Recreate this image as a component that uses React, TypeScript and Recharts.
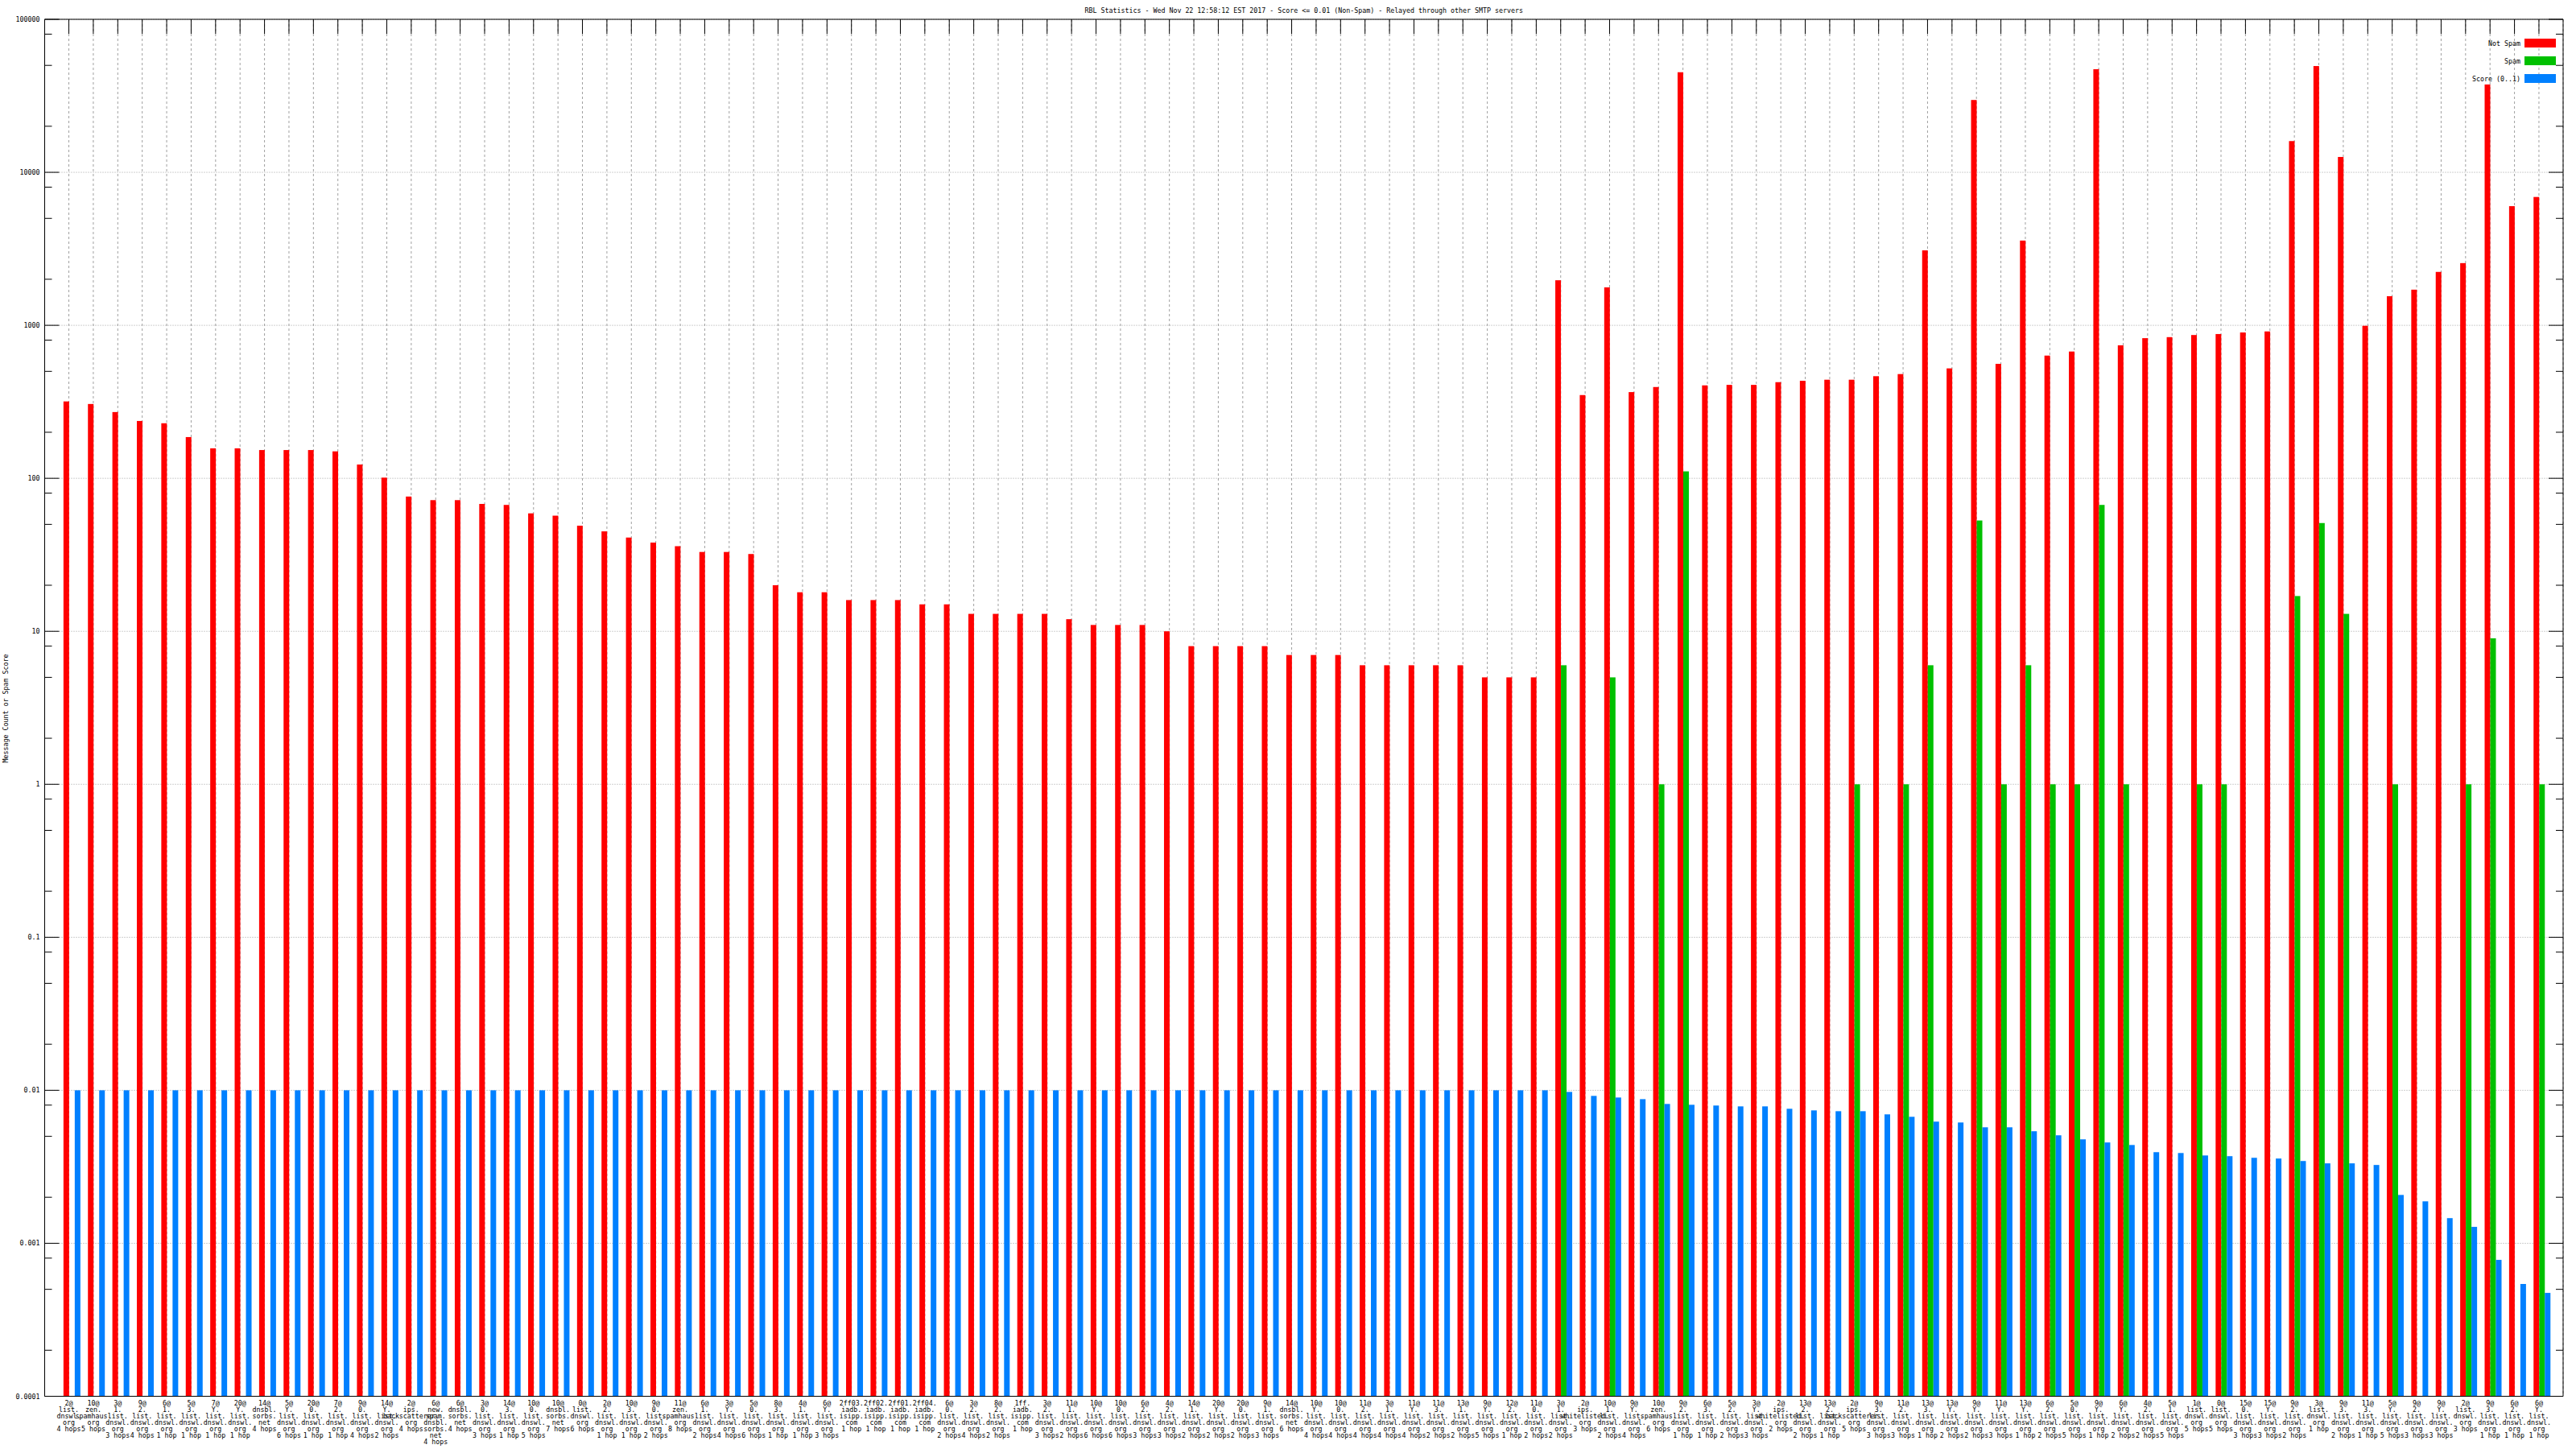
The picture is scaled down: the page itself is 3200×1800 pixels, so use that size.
import { BarChart, Bar, XAxis, YAxis, CartesianGrid, Legend } from 'recharts'

// categories: "<n>@<list> <hops>" split into lines the way the original wraps them
const categories = [
  '2@\nlist.\ndnswl.\norg\n4 hops', '10@\nzen.\nspamhaus.\norg\n5 hops', '3@\n1.\nlist.\ndnswl.\norg\n3 hops',
  '9@\n2.\nlist.\ndnswl.\norg\n4 hops', '6@\n1.\nlist.\ndnswl.\norg\n1 hop', '5@\n3.\nlist.\ndnswl.\norg\n1 hop',
  '7@\nY.\nlist.\ndnswl.\norg\n1 hop', '20@\nY.\nlist.\ndnswl.\norg\n1 hop', '14@\ndnsbl.\nsorbs.\nnet\n4 hops',
  '5@\nY.\nlist.\ndnswl.\norg\n6 hops', '20@\n0.\nlist.\ndnswl.\norg\n1 hop', '7@\n2.\nlist.\ndnswl.\norg\n1 hop',
  '9@\n0.\nlist.\ndnswl.\norg\n4 hops', '14@\nY.\nlist.\ndnswl.\norg\n2 hops', '2@\nips.\nbackscatterer.\norg\n4 hops',
  '6@\nnew.\nspam.\ndnsbl.\nsorbs.\nnet\n4 hops', '6@\ndnsbl.\nsorbs.\nnet\n4 hops', '3@\n0.\nlist.\ndnswl.\norg\n3 hops',
  '14@\n3.\nlist.\ndnswl.\norg\n1 hop', '10@\n0.\nlist.\ndnswl.\norg\n5 hops', '10@\ndnsbl.\nsorbs.\nnet\n7 hops',
  '0@\nlist.\ndnswl.\norg\n6 hops', '2@\n2.\nlist.\ndnswl.\norg\n1 hop', '10@\n3.\nlist.\ndnswl.\norg\n1 hop',
  '9@\n0.\nlist.\ndnswl.\norg\n2 hops', '11@\nzen.\nspamhaus.\norg\n8 hops', '6@\n1.\nlist.\ndnswl.\norg\n2 hops',
  '3@\nY.\nlist.\ndnswl.\norg\n4 hops', '5@\n0.\nlist.\ndnswl.\norg\n6 hops', '8@\n3.\nlist.\ndnswl.\norg\n1 hop',
  '4@\n1.\nlist.\ndnswl.\norg\n1 hop', '6@\nY.\nlist.\ndnswl.\norg\n3 hops', '2ff03.\niadb.\nisipp.\ncom\n1 hop',
  '2ff02.\niadb.\nisipp.\ncom\n1 hop', '2ff01.\niadb.\nisipp.\ncom\n1 hop', '2ff04.\niadb.\nisipp.\ncom\n1 hop',
  '6@\n0.\nlist.\ndnswl.\norg\n2 hops', '3@\n2.\nlist.\ndnswl.\norg\n4 hops', '8@\n2.\nlist.\ndnswl.\norg\n2 hops',
  '1ff.\niadb.\nisipp.\ncom\n1 hop', '3@\n2.\nlist.\ndnswl.\norg\n3 hops', '11@\n1.\nlist.\ndnswl.\norg\n2 hops',
  '10@\nY.\nlist.\ndnswl.\norg\n6 hops', '10@\n0.\nlist.\ndnswl.\norg\n6 hops', '6@\n2.\nlist.\ndnswl.\norg\n3 hops',
  '4@\n2.\nlist.\ndnswl.\norg\n3 hops', '14@\n1.\nlist.\ndnswl.\norg\n2 hops', '20@\nY.\nlist.\ndnswl.\norg\n2 hops',
  '20@\n0.\nlist.\ndnswl.\norg\n2 hops', '9@\n1.\nlist.\ndnswl.\norg\n3 hops', '14@\ndnsbl.\nsorbs.\nnet\n6 hops',
  '10@\nY.\nlist.\ndnswl.\norg\n4 hops', '10@\n0.\nlist.\ndnswl.\norg\n4 hops', '11@\n2.\nlist.\ndnswl.\norg\n4 hops',
  '3@\n1.\nlist.\ndnswl.\norg\n4 hops', '11@\nY.\nlist.\ndnswl.\norg\n4 hops', '11@\n3.\nlist.\ndnswl.\norg\n2 hops',
  '13@\n1.\nlist.\ndnswl.\norg\n2 hops', '9@\nY.\nlist.\ndnswl.\norg\n5 hops', '12@\n2.\nlist.\ndnswl.\norg\n1 hop',
  '11@\n0.\nlist.\ndnswl.\norg\n2 hops', '3@\n1.\nlist.\ndnswl.\norg\n2 hops', '2@\nips.\nwhitelisted.\norg\n3 hops',
  '10@\n1.\nlist.\ndnswl.\norg\n2 hops', '9@\nY.\nlist.\ndnswl.\norg\n4 hops', '10@\nzen.\nspamhaus.\norg\n6 hops',
  '9@\n2.\nlist.\ndnswl.\norg\n1 hop', '6@\n3.\nlist.\ndnswl.\norg\n1 hop', '5@\n2.\nlist.\ndnswl.\norg\n2 hops',
  '3@\nY.\nlist.\ndnswl.\norg\n3 hops', '2@\nips.\nwhitelisted.\norg\n2 hops', '13@\n2.\nlist.\ndnswl.\norg\n2 hops',
  '13@\n2.\nlist.\ndnswl.\norg\n1 hop', '2@\nips.\nbackscatterer.\norg\n5 hops', '9@\n3.\nlist.\ndnswl.\norg\n3 hops',
  '11@\n2.\nlist.\ndnswl.\norg\n3 hops', '13@\n3.\nlist.\ndnswl.\norg\n1 hop', '13@\nY.\nlist.\ndnswl.\norg\n2 hops',
  '9@\nY.\nlist.\ndnswl.\norg\n2 hops', '11@\nY.\nlist.\ndnswl.\norg\n3 hops', '13@\nY.\nlist.\ndnswl.\norg\n1 hop',
  '6@\n2.\nlist.\ndnswl.\norg\n2 hops', '5@\n0.\nlist.\ndnswl.\norg\n5 hops', '9@\nY.\nlist.\ndnswl.\norg\n1 hop',
  '6@\nY.\nlist.\ndnswl.\norg\n2 hops', '4@\n2.\nlist.\ndnswl.\norg\n2 hops', '5@\n1.\nlist.\ndnswl.\norg\n5 hops',
  '1@\nlist.\ndnswl.\norg\n5 hops', '0@\nlist.\ndnswl.\norg\n5 hops', '15@\n0.\nlist.\ndnswl.\norg\n3 hops',
  '15@\nY.\nlist.\ndnswl.\norg\n3 hops', '9@\n2.\nlist.\ndnswl.\norg\n2 hops', '3@\nlist.\ndnswl.\norg\n1 hop',
  '9@\n3.\nlist.\ndnswl.\norg\n2 hops', '11@\n3.\nlist.\ndnswl.\norg\n1 hop', '5@\nY.\nlist.\ndnswl.\norg\n5 hops',
  '9@\n2.\nlist.\ndnswl.\norg\n3 hops', '9@\nY.\nlist.\ndnswl.\norg\n3 hops', '2@\nlist.\ndnswl.\norg\n3 hops',
  '9@\n3.\nlist.\ndnswl.\norg\n1 hop', '6@\n2.\nlist.\ndnswl.\norg\n1 hop', '6@\nY.\nlist.\ndnswl.\norg\n1 hop',
]

const notSpam = [
  318, 306, 271, 237, 229, 186, 157, 157, 153, 153, 153, 150, 123, 101, 76, 72, 72, 68, 67, 59,
  57, 49, 45, 41, 38, 36, 33, 33, 32, 20, 18, 18, 16, 16, 16, 15, 15, 13, 13, 13,
  13, 12, 11, 11, 11, 10, 8, 8, 8, 8, 7, 7, 7, 6, 6, 6, 6, 6, 5, 5,
  5, 1970, 350, 1770, 366, 395, 45100, 405, 408, 408, 425, 434, 441, 441, 465, 480, 3090, 523, 29700, 560,
  3580, 634, 674, 47200, 740, 824, 837, 864, 877, 898, 912, 16000, 49500, 12600, 993, 1550, 1710, 2234, 2550, 37500,
  6010, 6900,
]

const spam = [
  null, null, null, null, null, null, null, null, null, null, null, null, null, null, null, null, null, null, null, null,
  null, null, null, null, null, null, null, null, null, null, null, null, null, null, null, null, null, null, null, null,
  null, null, null, null, null, null, null, null, null, null, null, null, null, null, null, null, null, null, null, null,
  null, 6, null, 5, null, 1, 111, null, null, null, null, null, null, 1, null, 1, 6, null, 53, 1,
  6, 1, 1, 67, 1, null, null, 1, 1, null, null, 17, 51, 13, null, 1, null, null, 1, 9,
  null, 1,
]

const score = [
  0.01, 0.01, 0.01, 0.01, 0.01, 0.01, 0.01, 0.01, 0.01, 0.01, 0.01, 0.01, 0.01, 0.01, 0.01, 0.01, 0.01, 0.01, 0.01, 0.01,
  0.01, 0.01, 0.01, 0.01, 0.01, 0.01, 0.01, 0.01, 0.01, 0.01, 0.01, 0.01, 0.01, 0.01, 0.01, 0.01, 0.01, 0.01, 0.01, 0.01,
  0.01, 0.01, 0.01, 0.01, 0.01, 0.01, 0.01, 0.01, 0.01, 0.01, 0.01, 0.01, 0.01, 0.01, 0.01, 0.01, 0.01, 0.01, 0.01, 0.01,
  0.01, 0.00976, 0.00919, 0.00897, 0.00875, 0.00814, 0.00804, 0.00795, 0.00785, 0.00785, 0.00757, 0.00739, 0.0073, 0.0073, 0.00696, 0.00671, 0.00624, 0.00616, 0.00573, 0.00573,
  0.0054, 0.00508, 0.00478, 0.00456, 0.00439, 0.00394, 0.00389, 0.00375, 0.00371, 0.00362, 0.00358, 0.00345, 0.00333, 0.00333, 0.00325, 0.00207, 0.00188, 0.00146, 0.00128, 0.000779,
  0.000542, 0.000474,
]

const seriesNames = ['Not Spam', 'Spam', 'Score (0..1)']
const majorTicks = [0.0001, 0.001, 0.01, 0.1, 1, 10, 100, 1000, 10000, 100000]
const majorLabels = ['0.0001', '0.001', '0.01', '0.1', '1', '10', '100', '1000', '10000', '100000']
const minorSteps = [2, 5, 8]

const data = categories.map((name, i) => ({ name, notSpam: notSpam[i], spam: spam[i], score: score[i] }))
const yTicks = [
  ...majorTicks,
  ...majorTicks.slice(0, -1).flatMap((t) => minorSteps.map((m) => Number((t * m).toPrecision(3)))),
]
const Y_DOMAIN = [0.0001, 100000]

const FONT = '"DejaVu Sans Mono", monospace'
const FS = 8.3

function LeftTick({ x, y, payload }: any) {
  const i = majorTicks.indexOf(payload.value)
  return (
    <g>
      <line x1={x} x2={x + (i >= 0 ? 18 : 9)} y1={y} y2={y} stroke="#000" />
      {i >= 0 && (
        <text x={x - 6} y={y} dy={3} textAnchor="end" fontSize={FS} fontFamily={FONT} fill="#000">
          {majorLabels[i]}
        </text>
      )}
    </g>
  )
}

function RightTick({ x, y, payload }: any) {
  const major = majorTicks.includes(payload.value)
  return <line x1={x} x2={x - (major ? 18 : 9)} y1={y} y2={y} stroke="#000" />
}

function BottomTick({ x, y, payload }: any) {
  const lines = String(payload.value).split('\n')
  return (
    <text x={x} y={y + 11} textAnchor="middle" fontSize={FS} fontFamily={FONT} fill="#000">
      {lines.map((l, k) => (
        <tspan key={k} x={x} dy={k === 0 ? 0 : 8.1}>{l}</tspan>
      ))}
    </text>
  )
}

function TopTick({ x, y }: any) {
  return <line x1={x} x2={x} y1={y} y2={y + 18} stroke="#000" />
}

// gnuplot puts the cluster just right of the tick
const shifted = (p: any) => <rect x={p.x + 3.5} y={p.y} width={p.width} height={p.height} fill={p.fill} />

function LegendBox({ payload }: any) {
  const items = [...(payload ?? [])].sort(
    (a: any, b: any) => seriesNames.indexOf(a.value) - seriesNames.indexOf(b.value),
  )
  return (
    <div style={{ fontFamily: FONT, fontSize: FS, color: '#000' }}>
      {items.map((e: any) => (
        <div key={e.value} style={{ display: 'flex', justifyContent: 'flex-end', alignItems: 'center', height: 22 }}>
          <span style={{ marginRight: 5 }}>{e.value}</span>
          <span style={{ width: 39, height: 11, background: e.color, display: 'inline-block' }} />
        </div>
      ))}
    </div>
  )
}

export default function App() {
  return (
    <div style={{ position: 'relative', width: 3200, height: 1800, background: '#fff' }}>
      <style>{'body{margin:0}'}</style>
      <div
        style={{
          position: 'absolute', left: 55.5, width: 3128.5, top: 8, height: 10, lineHeight: '10px',
          textAlign: 'center', fontFamily: FONT, fontSize: FS, whiteSpace: 'pre',
        }}
      >
        RBL Statistics - Wed Nov 22 12:58:12 EST 2017 - Score &lt;= 0.01 (Non-Spam) - Relayed through other SMTP servers
      </div>
      <div
        style={{
          position: 'absolute', left: 6.5, top: 880, transform: 'translate(-50%, -50%) rotate(-90deg)',
          fontFamily: FONT, fontSize: FS, whiteSpace: 'nowrap',
        }}
      >
        Message Count or Spam Score
      </div>
      <BarChart
        width={3200}
        height={1800}
        data={data}
        margin={{ top: 23, right: 0, bottom: 0, left: 0 }}
        barSize={7}
        barGap={0}
      >
        <CartesianGrid horizontal={false} stroke="#a0a0a0" strokeDasharray="3 3" />
        <CartesianGrid vertical={false} yAxisId="grid" stroke="#a0a0a0" strokeDasharray="1 2" />
        <Bar dataKey="notSpam" name={seriesNames[0]} fill="#ff0000" shape={shifted} isAnimationActive={false} />
        <Bar dataKey="spam" name={seriesNames[1]} fill="#00c000" shape={shifted} isAnimationActive={false} />
        <Bar dataKey="score" name={seriesNames[2]} fill="#0080ff" shape={shifted} isAnimationActive={false} />
        <XAxis
          dataKey="name"
          height={65.5}
          interval={0}
          padding={{ left: 14.85, right: 14.85 }}
          tickSize={0}
          tickMargin={0}
          tickLine={false}
          axisLine={{ stroke: '#000' }}
          tick={<BottomTick />}
        />
        <XAxis
          xAxisId="top"
          orientation="top"
          dataKey="name"
          height={1}
          interval={0}
          padding={{ left: 14.85, right: 14.85 }}
          tickSize={0}
          tickMargin={0}
          tickLine={false}
          axisLine={{ stroke: '#000' }}
          tick={<TopTick />}
        />
        <YAxis
          type="number"
          scale="log"
          domain={Y_DOMAIN}
          allowDataOverflow
          ticks={yTicks}
          interval={0}
          width={55.5}
          tickSize={0}
          tickMargin={0}
          tickLine={false}
          axisLine={{ stroke: '#000' }}
          tick={<LeftTick />}
        />
        <YAxis
          yAxisId="r"
          orientation="right"
          type="number"
          scale="log"
          domain={Y_DOMAIN}
          allowDataOverflow
          ticks={yTicks}
          interval={0}
          width={16}
          tickSize={0}
          tickMargin={0}
          tickLine={false}
          axisLine={{ stroke: '#000' }}
          tick={<RightTick />}
        />
        <YAxis
          yAxisId="grid"
          hide
          type="number"
          scale="log"
          domain={Y_DOMAIN}
          allowDataOverflow
          ticks={majorTicks.slice(1, -1)}
          interval={0}
        />
        <Legend
          layout="vertical"
          align="center"
          verticalAlign="middle"
          wrapperStyle={{ top: 42.7, right: 25, left: 'auto', width: 'auto' }}
          content={<LegendBox />}
        />
      </BarChart>
    </div>
  )
}
